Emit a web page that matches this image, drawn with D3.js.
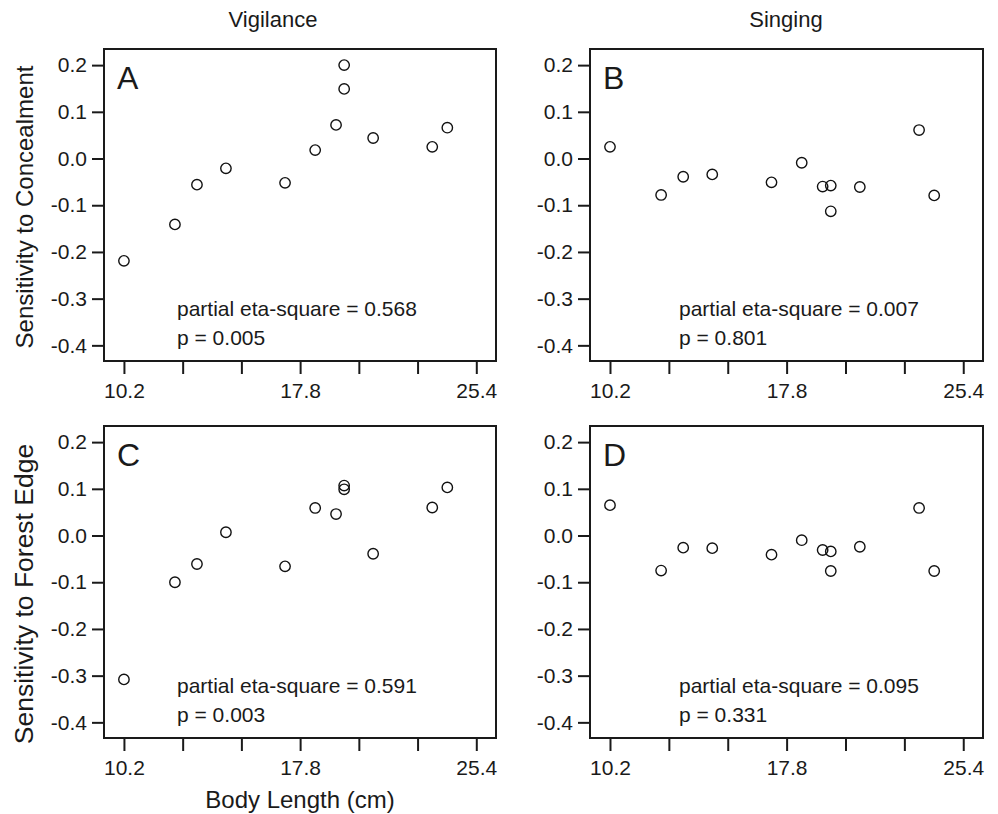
<!DOCTYPE html>
<html lang="en">
<head>
<meta charset="utf-8">
<title>Sensitivity vs body length</title>
<script src="https://d3js.org/d3.v7.min.js"></script>
<style>
  body { margin: 0; background: #fff; }
  svg text { font-family: "Liberation Sans", Arial, Helvetica, sans-serif; fill: #1a1a1a; }
  .axis path { display: none; }
  .axis line { stroke: #1a1a1a; stroke-width: 2; }
</style>
</head>
<body>
<div class="chart"></div>
<script>
// body length of each species (cm), shared by all four panels
const bodyLength = [10.2, 12.4, 13.35, 14.6, 17.15, 18.45, 19.35, 19.7, 19.7, 20.95, 23.5, 24.15];

// sensitivity values per panel
const vigConceal  = [-0.219, -0.141, -0.056, -0.021, -0.052, 0.018, 0.072, 0.200, 0.149, 0.044, 0.025, 0.066];
const singConceal = [0.025, -0.078, -0.039, -0.034, -0.051, -0.009, -0.060, -0.058, -0.113, -0.061, 0.061, -0.079];
const vigEdge     = [-0.308, -0.100, -0.061, 0.007, -0.066, 0.059, 0.046, 0.107, 0.099, -0.039, 0.060, 0.103];
const singEdge    = [0.065, -0.075, -0.026, -0.027, -0.041, -0.010, -0.031, -0.034, -0.076, -0.024, 0.059, -0.076];

const panelLetters = ["A", "B", "C", "D"];
const etaSquare = ["0.568", "0.007", "0.591", "0.095"];
const pValues = ["0.005", "0.801", "0.003", "0.331"];

const columnTitles = ["Vigilance", "Singing"];
const rowLabels = ["Sensitivity to Concealment", "Sensitivity to Forest Edge"];
const xLabel = "Body Length (cm)";

const yTicks = [0.2, 0.1, 0.0, -0.1, -0.2, -0.3, -0.4];
const xTicks = [10.2, 12.7333, 15.2667, 17.8, 20.3333, 22.8667, 25.4];
const xTickLabels = ["10.2", "", "", "17.8", "", "", "25.4"];

// layout
const width = 998, height = 814;
const cols = [{x0: 104, x1: 496, textDx: 73, titleX: 273}, {x0: 590, x1: 983, textDx: 89, titleX: 786}];
const rows = [{y0: 49, y1: 361, labelY: 207, labelSize: 24}, {y0: 426, y1: 738, labelY: 594, labelSize: 26.5}];
const xDomain = [9.34, 26.25];
const yDomain = [-0.4335, 0.2345];

const panels = [
  {values: vigConceal, col: 0, row: 0},
  {values: singConceal, col: 1, row: 0},
  {values: vigEdge, col: 0, row: 1},
  {values: singEdge, col: 1, row: 1}
];

const svg = d3.select(".chart")
  .append("svg")
  .attr("width", width)
  .attr("height", height);

panels.forEach((p, i) => {
  const c = cols[p.col], r = rows[p.row];
  const x = d3.scaleLinear().domain(xDomain).range([c.x0, c.x1]);
  const y = d3.scaleLinear().domain(yDomain).range([r.y1, r.y0]);

  const g = svg.append("g");

  g.append("g")
    .attr("class", "axis")
    .attr("transform", `translate(${c.x0},0)`)
    .call(d3.axisLeft(y).tickValues(yTicks).tickSize(12).tickPadding(5)
      .tickFormat(d => d.toFixed(1)))
    .selectAll("text")
    .style("font-size", "21px");

  g.append("g")
    .attr("class", "axis")
    .attr("transform", `translate(0,${r.y1})`)
    .call(d3.axisBottom(x).tickValues(xTicks).tickSize(13).tickPadding(9)
      .tickFormat((d, k) => xTickLabels[k]))
    .selectAll("text")
    .style("font-size", "21px");

  g.append("rect")
    .attr("x", c.x0)
    .attr("y", r.y0)
    .attr("width", c.x1 - c.x0)
    .attr("height", r.y1 - r.y0)
    .attr("fill", "none")
    .attr("stroke", "#1a1a1a")
    .attr("stroke-width", 2);

  g.selectAll("circle")
    .data(p.values)
    .enter()
    .append("circle")
    .attr("cx", (d, k) => x(bodyLength[k]))
    .attr("cy", d => y(d))
    .attr("r", 5.2)
    .attr("fill", "none")
    .attr("stroke", "#111")
    .attr("stroke-width", 1.4);

  g.append("text")
    .attr("x", c.x0 + 13)
    .attr("y", r.y0 + 40)
    .style("font-size", "32px")
    .text(panelLetters[i]);

  g.append("text")
    .attr("x", c.x0 + c.textDx)
    .attr("y", r.y0 + 267)
    .style("font-size", "21px")
    .text("partial eta-square = " + etaSquare[i]);

  g.append("text")
    .attr("x", c.x0 + c.textDx)
    .attr("y", r.y0 + 296)
    .style("font-size", "21px")
    .text("p = " + pValues[i]);
});

// column titles
columnTitles.forEach((t, k) => {
  svg.append("text")
    .attr("x", cols[k].titleX)
    .attr("y", 27)
    .attr("text-anchor", "middle")
    .style("font-size", "22px")
    .text(t);
});

// row labels
rowLabels.forEach((t, k) => {
  svg.append("text")
    .attr("transform", `translate(33,${rows[k].labelY}) rotate(-90)`)
    .attr("text-anchor", "middle")
    .style("font-size", rows[k].labelSize + "px")
    .text(t);
});

svg.append("text")
  .attr("x", (cols[0].x0 + cols[0].x1) / 2)
  .attr("y", 808)
  .attr("text-anchor", "middle")
  .style("font-size", "24px")
  .text(xLabel);
</script>
</body>
</html>
